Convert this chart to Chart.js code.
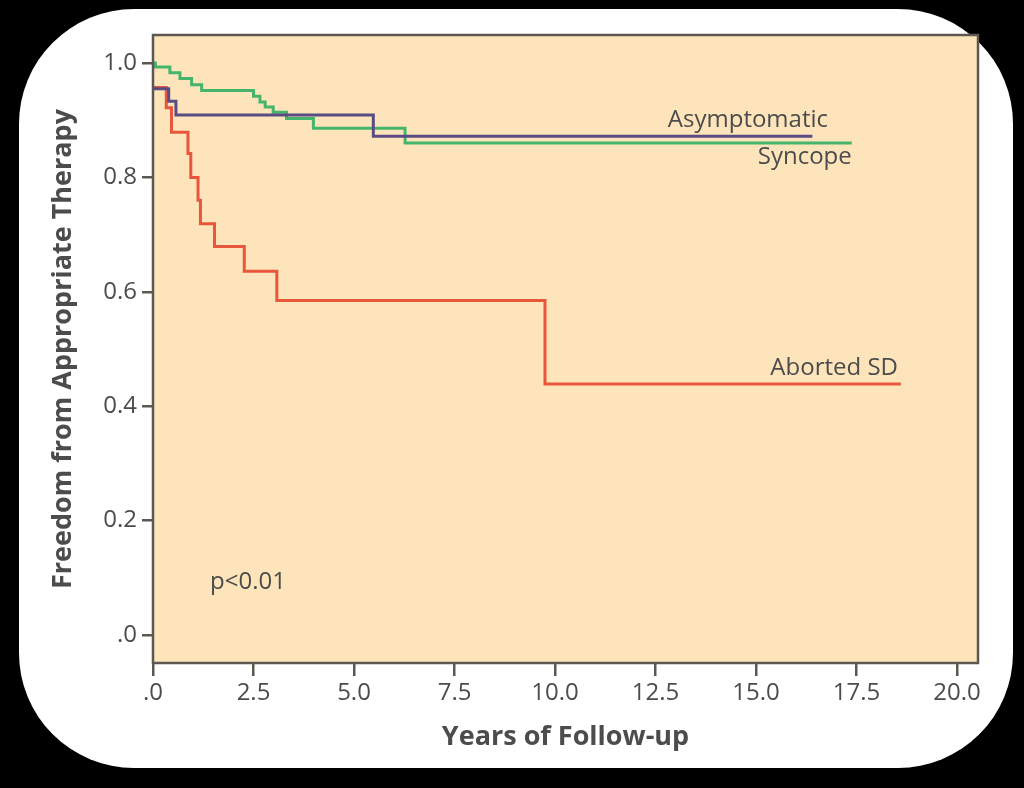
<!DOCTYPE html>
<html>
<head>
<meta charset="utf-8">
<script src="https://cdn.jsdelivr.net/npm/chart.js@4/dist/chart.umd.min.js"></script>
<style>
  html, body { margin: 0; padding: 0; background: #000; }
  #wrap { width: 1024px; height: 788px; }
</style>
</head>
<body>
<div id="wrap"><canvas id="c" width="1024" height="788"></canvas></div>
<script>
// ---- data ----
const asymTimes   = [0, 0.39, 0.57, 5.48, 16.40];
const asymValues  = [0.955, 0.933, 0.909, 0.872, 0.872];

const syncTimes   = [0, 0.06, 0.42, 0.67, 0.96, 1.21, 2.50, 2.66, 2.79, 2.99, 3.32, 3.99, 6.27, 17.38];
const syncValues  = [1.000, 0.993, 0.983, 0.973, 0.962, 0.952, 0.942, 0.932, 0.923, 0.914, 0.903, 0.886, 0.860, 0.860];

const abortTimes  = [0, 0.33, 0.46, 0.87, 0.94, 1.12, 1.18, 1.53, 2.27, 3.08, 9.75, 18.60];
const abortValues = [0.957, 0.922, 0.879, 0.842, 0.800, 0.760, 0.719, 0.679, 0.636, 0.585, 0.439, 0.439];

const seriesNames = ['Asymptomatic', 'Syncope', 'Aborted SD'];
const xTickValues = [0, 2.5, 5, 7.5, 10, 12.5, 15, 17.5, 20];
const yTickValues = [0, 0.2, 0.4, 0.6, 0.8, 1.0];
const pValueText  = 'p<0.01';
const xTitle = 'Years of Follow-up';
const yTitle = 'Freedom from Appropriate Therapy';

function pts(t, v) { return t.map((x, i) => ({ x: x, y: v[i] })); }
function fmt(v) { return Math.abs(v) < 1e-9 ? '.0' : v.toFixed(1); }

const FONT = "'Open Sans', 'Noto Sans', sans-serif";
const TEXT = '#4c4c4c';
const AXIS = '#5c5750';

const backdrop = {
  id: 'backdrop',
  beforeDraw(chart) {
    const ctx = chart.ctx, a = chart.chartArea;
    ctx.save();
    ctx.fillStyle = '#000';
    ctx.fillRect(0, 0, chart.width, chart.height);
    ctx.fillStyle = '#fff';
    ctx.beginPath();
    if (ctx.roundRect) ctx.roundRect(19, 9, 994, 759, 115);
    else ctx.rect(19, 9, 994, 759);
    ctx.fill();
    ctx.fillStyle = '#fde4bb';
    ctx.fillRect(a.left, a.top, a.right - a.left, a.bottom - a.top);
    ctx.restore();
  },
  afterDatasetsDraw(chart) {
    const ctx = chart.ctx, a = chart.chartArea;
    ctx.save();
    ctx.strokeStyle = AXIS;
    ctx.lineWidth = 2.5;
    ctx.strokeRect(a.left, a.top, a.right - a.left, a.bottom - a.top);
    ctx.restore();
  }
};

const labelsPlugin = {
  id: 'curveLabels',
  afterDatasetsDraw(chart, args, opts) {
    const ctx = chart.ctx, xs = chart.scales.x, ys = chart.scales.y;
    ctx.save();
    ctx.fillStyle = TEXT;
    ctx.font = '24px ' + FONT;
    ctx.textBaseline = 'middle';
    opts.items.forEach(it => {
      ctx.textAlign = it.align;
      ctx.fillText(it.text, xs.getPixelForValue(it.x), ys.getPixelForValue(it.y));
    });
    ctx.restore();
  }
};

const common = { stepped: true, fill: false, pointRadius: 0, borderWidth: 3, tension: 0 };

new Chart(document.getElementById('c'), {
  type: 'line',
  data: {
    datasets: [
      Object.assign({ label: seriesNames[0], data: pts(asymTimes, asymValues), borderColor: '#5a4b82' }, common),
      Object.assign({ label: seriesNames[1], data: pts(syncTimes, syncValues), borderColor: '#45b56b' }, common),
      Object.assign({ label: seriesNames[2], data: pts(abortTimes, abortValues), borderColor: '#e8573c' }, common)
    ]
  },
  plugins: [backdrop, labelsPlugin],
  options: {
    responsive: false,
    devicePixelRatio: 1,
    animation: false,
    layout: { padding: { left: 33, right: 46, top: 35, bottom: 25 } },
    plugins: {
      legend: { display: false },
      tooltip: { enabled: false },
      curveLabels: {
        items: [
          { text: seriesNames[0], x: 16.79, y: 0.900, align: 'right' },
          { text: seriesNames[1], x: 17.38, y: 0.836, align: 'right' },
          { text: seriesNames[2], x: 18.53, y: 0.466, align: 'right' },
          { text: pValueText, x: 1.42, y: 0.093, align: 'left' }
        ]
      }
    },
    scales: {
      x: {
        type: 'linear',
        min: 0, max: 20.52,
        afterFit(s) { s.height = 100; },
        afterBuildTicks(s) { s.ticks = xTickValues.map(v => ({ value: v })); },
        ticks: { includeBounds: false, padding: 3, color: TEXT, font: { family: FONT, size: 24 }, callback: v => fmt(v), maxRotation: 0, autoSkip: false },
        grid: { drawOnChartArea: false, drawTicks: true, tickLength: 13, color: AXIS, lineWidth: 2.5 },
        border: { display: false },
        title: { display: true, text: xTitle, color: TEXT, font: { family: FONT, size: 27, weight: 'bold', lineHeight: 1.2 }, padding: { top: 9.8, bottom: 9.8 } }
      },
      y: {
        type: 'linear',
        min: -0.049, max: 1.049,
        afterFit(s) { s.width = 120; },
        afterBuildTicks(s) { s.ticks = yTickValues.map(v => ({ value: v })); },
        ticks: { includeBounds: false, padding: 5, color: TEXT, font: { family: FONT, size: 24 }, callback: v => fmt(v), autoSkip: false },
        grid: { drawOnChartArea: false, drawTicks: true, tickLength: 11, color: AXIS, lineWidth: 2.5 },
        border: { display: false },
        title: { display: true, text: yTitle, color: TEXT, font: { family: FONT, size: 27, weight: 'bold', lineHeight: 1.2 }, padding: { top: 13.8, bottom: 13.8 } }
      }
    }
  }
});
</script>
</body>
</html>
